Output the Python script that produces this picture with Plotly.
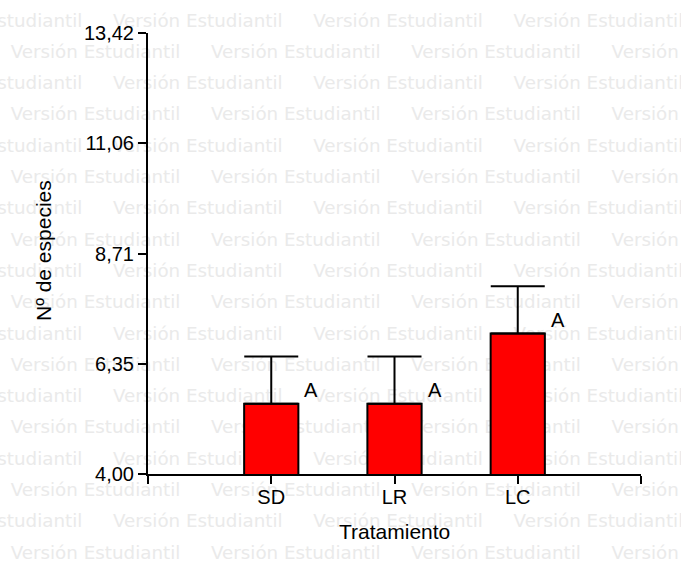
import plotly.graph_objects as go

# ---- data ----
categories = ["SD", "LR", "LC"]
means = [5.50, 5.50, 7.00]
errors = [1.01, 1.01, 1.01]
letters = ["A", "A", "A"]
y_tick_values = [4.00, 6.355, 8.71, 11.065, 13.42]
y_tick_labels = ["4,00", "6,35", "8,71", "11,06", "13,42"]
x_title = "Tratamiento"
y_title = "Nº de especies"
watermark = "Versión Estudiantil"

W, H = 681, 563
L, R, T, B = 148, 641, 33, 474  # plot area in px

cat_pos = list(range(1, len(categories) + 1))

fig = go.Figure()

# ---- watermark (background layer, full-figure axes) ----
wx, wy = [], []
row_step = 31.3
period = 200.3
text_w = 171
for k in range(18):
    y = 22 + row_step * k
    start0 = -88 if k % 2 == 0 else 10
    for j in range(5):
        s = start0 + period * j
        if s > W:
            continue
        wx.append(s + text_w / 2)
        wy.append(y)
fig.add_trace(go.Scatter(
    x=wx, y=wy, mode="text", text=[watermark] * len(wx),
    textposition="middle center",
    textfont=dict(family="DejaVu Sans", size=18.3, color="#eaeaea"),
    hoverinfo="skip", showlegend=False, xaxis="x", yaxis="y",
))

# ---- bars ----
fig.add_trace(go.Bar(
    x=cat_pos, y=means, width=0.44,
    marker=dict(color="#ff0000", line=dict(color="black", width=2)),
    error_y=dict(type="data", array=errors, arrayminus=[0] * len(errors),
                 symmetric=False, color="black", thickness=2, width=27),
    showlegend=False, xaxis="x2", yaxis="y2", hoverinfo="skip",
))

annotations = []
for p, m, e, lt in zip(cat_pos, means, errors, letters):
    annotations.append(dict(
        x=p + 0.325, y=m + 0.3, xref="x2", yref="y2", text=lt,
        showarrow=False, xanchor="center", yanchor="middle",
        font=dict(family="Arial, Liberation Sans", size=20, color="black"),
    ))
annotations.append(dict(
    x=395 / W, y=1 - 531 / H, xref="paper", yref="paper", text=x_title,
    showarrow=False, xanchor="center", yanchor="middle",
    font=dict(family="Arial, Liberation Sans", size=21, color="black"),
))
annotations.append(dict(
    x=44 / W, y=1 - 251 / H, xref="paper", yref="paper", text=y_title,
    showarrow=False, xanchor="center", yanchor="middle", textangle=-90,
    font=dict(family="Arial, Liberation Sans", size=21, color="black"),
))

fig.update_layout(
    width=W, height=H,
    margin=dict(l=0, r=0, t=0, b=0, pad=0),
    paper_bgcolor="white", plot_bgcolor="rgba(0,0,0,0)",
    showlegend=False,
    xaxis=dict(domain=[0, 1], range=[0, W], visible=False, fixedrange=True),
    yaxis=dict(domain=[0, 1], range=[H, 0], visible=False, fixedrange=True),
    xaxis2=dict(
        domain=[L / W, R / W], anchor="y2", range=[0, len(categories) + 1],
        tickmode="array", tickvals=[0] + cat_pos + [len(categories) + 1],
        ticktext=[""] + categories + [""],
        ticks="outside", ticklen=8, tickwidth=2, tickcolor="black",
        showline=True, linecolor="black", linewidth=2,
        showgrid=False, zeroline=False, automargin=False,
        ticklabelstandoff=-4,
        tickfont=dict(family="Arial, Liberation Sans", size=20, color="black"),
    ),
    yaxis2=dict(
        domain=[1 - B / H, 1 - T / H], anchor="x2", range=[4.00, 13.42],
        tickmode="array", tickvals=y_tick_values, ticktext=y_tick_labels,
        ticks="outside", ticklen=8, tickwidth=2, tickcolor="black",
        showline=True, linecolor="black", linewidth=2,
        showgrid=False, zeroline=False, automargin=False,
        tickfont=dict(family="Arial, Liberation Sans", size=20, color="black"),
    ),
    annotations=annotations,
)

fig.write_html("out.html", config={"displayModeBar": False},
               post_script="document.body.style.margin='0';")
